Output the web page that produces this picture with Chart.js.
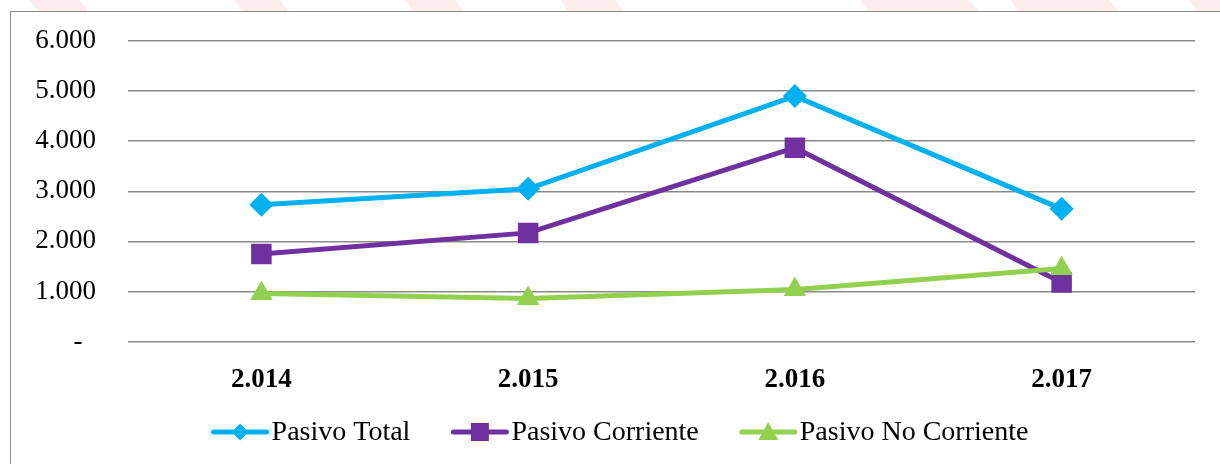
<!DOCTYPE html>
<html>
<head>
<meta charset="utf-8">
<script src="https://cdn.jsdelivr.net/npm/chart.js@4/dist/chart.umd.min.js"></script>
<style>
  html, body { margin: 0; padding: 0; background: #fff; }
  #wrap { position: relative; width: 1220px; height: 464px; overflow: hidden; background: #fff; }
  .stripe { position: absolute; top: -20px; height: 40px; background: #fcecec; transform: skewX(35deg); }
  #frame { position: absolute; left: 10px; top: 11px; width: 1300px; height: 500px;
           border: 1.5px solid #8a8a8a; background: #fff; box-sizing: border-box; }
  #chart { position: absolute; left: 0; top: 0; }
</style>
</head>
<body>
<div id="wrap">
  <!-- faint watermark stripes above the frame -->
  <div class="stripe" style="left:30px;width:50px"></div>
  <div class="stripe" style="left:235px;width:45px"></div>
  <div class="stripe" style="left:405px;width:50px"></div>
  <div class="stripe" style="left:560px;width:55px"></div>
  <div class="stripe" style="left:860px;width:110px"></div>
  <div class="stripe" style="left:1010px;width:100px"></div>
  <div class="stripe" style="left:1190px;width:40px"></div>
  <div id="frame"></div>
  <canvas id="chart" width="1220" height="464"></canvas>
</div>
<script>
// Data
const years = ['2.014', '2.015', '2.016', '2.017'];
const pasivoTotal = [2730, 3050, 4900, 2650];
const pasivoCorriente = [1750, 2170, 3870, 1180];
const pasivoNoCorriente = [960, 860, 1040, 1460];
const yTicks = [0, 1000, 2000, 3000, 4000, 5000, 6000];

const serif = '"Liberation Serif", "Times New Roman", serif';

function fmt(v) {
    if (v === 0) return '-  ';  // accounting style dash, sits a bit left
    return String(v).replace(/\B(?=(\d{3})+(?!\d))/g, '.');
}

// draws a marker shape centred at x,y
function marker(ctx, style, x, y, r, color) {
    ctx.fillStyle = color;
    ctx.beginPath();
    if (style === 'rectRot') {
        ctx.moveTo(x, y - r); ctx.lineTo(x + r, y); ctx.lineTo(x, y + r); ctx.lineTo(x - r, y);
    } else if (style === 'rect') {
        ctx.rect(x - r, y - r, 2 * r, 2 * r);
    } else {
        ctx.moveTo(x, y - r); ctx.lineTo(x + r, y + r * 0.8); ctx.lineTo(x - r, y + r * 0.8);
    }
    ctx.closePath();
    ctx.fill();
}

// Legend: line sample with marker, then label
const lineLegend = {
    id: 'lineLegend',
    afterDraw(chart) {
        const ctx = chart.ctx;
        const sample = 57, gap = 41, y = 432;
        ctx.save();
        ctx.font = '28px ' + serif;
        const items = chart.data.datasets.map(ds => ({
            ds: ds, w: sample + 3 + ctx.measureText(ds.label).width
        }));
        const total = items.reduce((s, it) => s + it.w, 0) + gap * (items.length - 1);
        let x = 620 - total / 2;
        items.forEach(it => {
            ctx.strokeStyle = it.ds.borderColor;
            ctx.lineWidth = 5;
            ctx.lineCap = 'round';
            ctx.beginPath();
            ctx.moveTo(x + 2, y);
            ctx.lineTo(x + sample - 2, y);
            ctx.stroke();
            marker(ctx, it.ds.pointStyle, x + sample / 2, y, it.ds.legendSize, it.ds.borderColor);
            ctx.fillStyle = '#000';
            ctx.textBaseline = 'middle';
            ctx.fillText(it.ds.label, x + sample + 3, y + 1);
            x += it.w + gap;
        });
        ctx.restore();
    }
};

const ctx = document.getElementById('chart').getContext('2d');
const chart = new Chart(ctx, {
    type: 'line',
    data: {
        labels: years,
        datasets: [{
            label: 'Pasivo Total',
            data: pasivoTotal,
            borderColor: '#00b0f0',
            backgroundColor: '#00b0f0',
            pointStyle: 'rectRot',
            pointRadius: 12,
            legendSize: 8.5,
            order: 2
        }, {
            label: 'Pasivo Corriente',
            data: pasivoCorriente,
            borderColor: '#7030a0',
            backgroundColor: '#7030a0',
            pointStyle: 'rect',
            pointRadius: 14.5,
            legendSize: 9,
            order: 1
        }, {
            label: 'Pasivo No Corriente',
            data: pasivoNoCorriente,
            borderColor: '#92d050',
            backgroundColor: '#92d050',
            pointStyle: 'triangle',
            pointRadius: 13,
            legendSize: 10,
            order: 0
        }]
    },
    options: {
        responsive: false,
        animation: false,
        layout: { padding: { top: 41, right: 25, bottom: 46, left: 10 } },
        elements: {
            line: { borderWidth: 5, tension: 0 },
            point: { borderWidth: 0, hoverRadius: 12 }
        },
        plugins: {
            legend: { display: false },
            tooltip: { enabled: false }
        },
        scales: {
            x: {
                offset: true,
                grid: { display: false, drawTicks: false },
                border: { display: false },
                ticks: {
                    color: '#000',
                    padding: 22,
                    font: { family: serif, size: 27, weight: 'bold' }
                }
            },
            y: {
                min: 0,
                max: 6000,
                afterBuildTicks: axis => { axis.ticks = yTicks.map(v => ({ value: v })); },
                afterFit: axis => {
                    axis.width = 118;
                    axis.paddingTop = 0;
                    axis.paddingBottom = 0;
                },
                grid: { color: '#8a8a8a', lineWidth: 1.5, drawTicks: false },
                border: { display: false },
                ticks: {
                    color: '#000',
                    padding: 32,
                    font: { family: serif, size: 27 },
                    callback: v => fmt(v)
                }
            }
        }
    },
    plugins: [lineLegend]
});
</script>
</body>
</html>
